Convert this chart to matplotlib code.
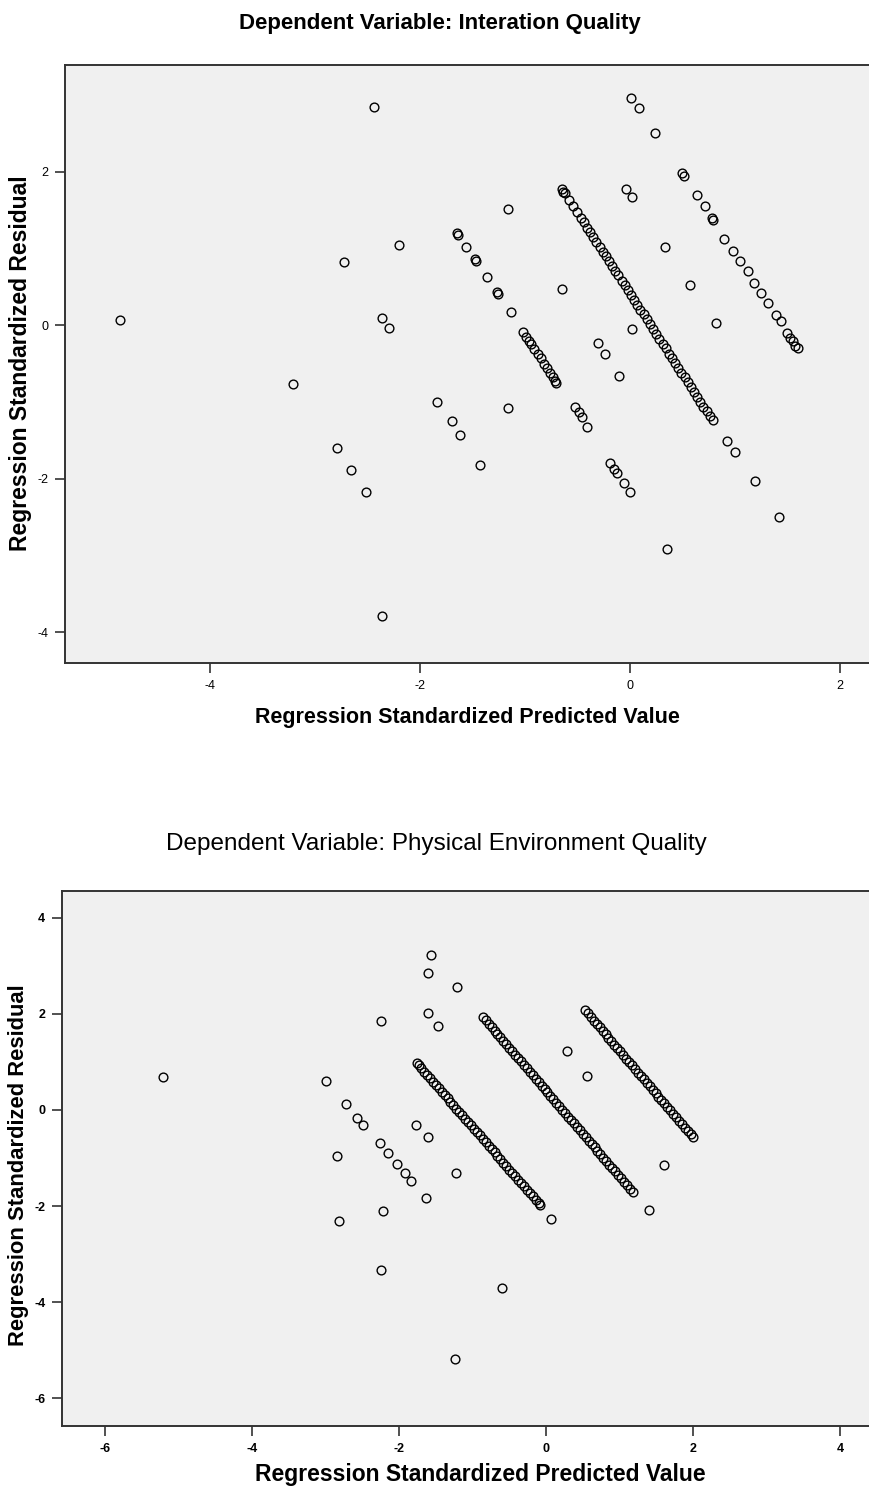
import matplotlib
matplotlib.use("Agg")
import matplotlib.pyplot as plt

plt.rcParams['font.family'] = ['Liberation Sans', 'DejaVu Sans']
plt.rcParams['axes.unicode_minus'] = False

# ---- Dependent Variable: Interation Quality ----
top_pred = [-4.86, -3.21, -2.79, -2.66, -2.51, -2.72, -2.44, -2.20, -2.36, -2.30, -2.36,
            -1.84, -1.70, -1.62, -1.43, -1.16, -1.16, -0.65, -0.30, -0.24, -0.10, 0.02,
            0.01, 0.09, 0.24, -0.04, 0.02, 0.33, 0.57, 0.82, 0.35,
            # line through -1.65 .. 0.0
            -1.65, -1.64, -1.56, -1.48, -1.47, -1.36, -1.27, -1.26, -1.13,
            -1.02, -0.99, -0.96, -0.94, -0.91, -0.88, -0.85, -0.82, -0.79, -0.76, -0.73, -0.71, -0.70,
            -0.52, -0.49, -0.46, -0.41, -0.19, -0.15, -0.12, -0.06, 0.00,
            # line through -0.65 .. 1.42
            -0.65, -0.64, -0.62, -0.58, -0.54, -0.50, -0.47, -0.44, -0.41, -0.38, -0.35, -0.32,
            -0.29, -0.26, -0.23, -0.20, -0.17, -0.14, -0.11, -0.08, -0.05, -0.02, 0.01, 0.04,
            0.07, 0.10, 0.13, 0.16, 0.19, 0.22, 0.25, 0.28, 0.31, 0.34, 0.37, 0.40, 0.43, 0.46,
            0.49, 0.52, 0.55, 0.58, 0.61, 0.64, 0.67, 0.70, 0.73, 0.76, 0.79,
            0.92, 1.00, 1.19, 1.42,
            # line through 0.50 .. 1.60
            0.50, 0.51, 0.64, 0.71, 0.78, 0.79, 0.90, 0.98, 1.05, 1.12, 1.18, 1.25, 1.31,
            1.39, 1.44, 1.50, 1.52, 1.55, 1.57, 1.60]
top_resid = [0.07, -0.76, -1.60, -1.88, -2.17, 0.83, 2.84, 1.05, 0.09, -0.03, -3.79,
             -1.00, -1.25, -1.43, -1.82, 1.51, -1.08, 0.47, -0.23, -0.38, -0.66, -0.05,
             2.96, 2.83, 2.50, 1.77, 1.67, 1.02, 0.53, 0.03, -2.92,
             1.20, 1.17, 1.02, 0.86, 0.84, 0.63, 0.43, 0.41, 0.17,
             -0.09, -0.15, -0.21, -0.25, -0.31, -0.38, -0.43, -0.50, -0.56, -0.62, -0.68, -0.72, -0.75,
             -1.07, -1.13, -1.20, -1.33, -1.79, -1.87, -1.93, -2.05, -2.17,
             1.78, 1.74, 1.72, 1.63, 1.55, 1.47, 1.40, 1.34, 1.27, 1.21, 1.15, 1.09,
             1.02, 0.96, 0.90, 0.84, 0.77, 0.71, 0.65, 0.58, 0.52, 0.46, 0.39, 0.33,
             0.27, 0.20, 0.14, 0.08, 0.01, -0.05, -0.11, -0.18, -0.24, -0.30, -0.37, -0.43, -0.49, -0.56,
             -0.62, -0.68, -0.74, -0.81, -0.87, -0.93, -1.00, -1.06, -1.12, -1.18, -1.24,
             -1.51, -1.65, -2.03, -2.50,
             1.98, 1.95, 1.70, 1.55, 1.40, 1.37, 1.12, 0.97, 0.84, 0.70, 0.55, 0.42, 0.29,
             0.13, 0.05, -0.10, -0.17, -0.21, -0.27, -0.30]

# ---- Dependent Variable: Physical Environment Quality ----
bot_pred = [-5.21, -1.56, -1.61, -1.21, -2.24, -1.61, -1.47, -2.99, -2.72, -2.57, -2.49,
            -2.26, -2.15, -2.03, -1.92, -1.84, -1.77, -1.61, -2.84, -2.22, -2.82, -1.63,
            -2.24, -1.22, -1.24, -0.60, 0.07, 1.40, 1.61, 0.28, 0.56,
            # left line
            -1.76, -1.73, -1.70, -1.66, -1.62, -1.58, -1.54, -1.50, -1.46, -1.42, -1.38, -1.34,
            -1.30, -1.26, -1.22, -1.18, -1.14, -1.10, -1.06, -1.02, -0.98, -0.94, -0.90, -0.86,
            -0.82, -0.78, -0.74, -0.70, -0.66, -0.62, -0.58, -0.54, -0.50, -0.46, -0.42, -0.38,
            -0.34, -0.30, -0.26, -0.22, -0.18, -0.14, -0.10, -0.08,
            # middle line
            -0.86, -0.82, -0.78, -0.74, -0.70, -0.66, -0.62, -0.58, -0.54, -0.50, -0.46, -0.42,
            -0.38, -0.34, -0.30, -0.26, -0.22, -0.18, -0.14, -0.10, -0.06, -0.02, 0.02, 0.06,
            0.10, 0.14, 0.18, 0.22, 0.26, 0.30, 0.34, 0.38, 0.42, 0.46, 0.50, 0.54, 0.58, 0.62,
            0.66, 0.70, 0.74, 0.78, 0.82, 0.86, 0.90, 0.94, 0.98, 1.02, 1.06, 1.10, 1.14, 1.18,
            # right line
            0.53, 0.57, 0.61, 0.65, 0.69, 0.73, 0.77, 0.81, 0.85, 0.89, 0.93, 0.97, 1.01, 1.05,
            1.09, 1.13, 1.17, 1.21, 1.25, 1.29, 1.33, 1.37, 1.41, 1.45, 1.49, 1.53, 1.57, 1.61,
            1.65, 1.69, 1.73, 1.77, 1.81, 1.85, 1.89, 1.93, 1.97, 2.00]
bot_resid = [0.69, 3.23, 2.85, 2.56, 1.85, 2.02, 1.75, 0.60, 0.13, -0.17, -0.31,
             -0.69, -0.90, -1.13, -1.31, -1.48, -0.31, -0.56, -0.96, -2.10, -2.31, -1.83,
             -3.33, -1.31, -5.19, -3.71, -2.27, -2.08, -1.15, 1.23, 0.71,
             0.98, 0.93, 0.87, 0.80, 0.73, 0.66, 0.59, 0.52, 0.45, 0.38, 0.31, 0.24,
             0.17, 0.10, 0.03, -0.04, -0.11, -0.18, -0.25, -0.32, -0.39, -0.46, -0.53, -0.60,
             -0.67, -0.74, -0.81, -0.88, -0.95, -1.03, -1.10, -1.17, -1.24, -1.31, -1.38, -1.45,
             -1.52, -1.59, -1.66, -1.73, -1.80, -1.87, -1.94, -1.98,
             1.94, 1.87, 1.80, 1.73, 1.65, 1.58, 1.51, 1.44, 1.37, 1.30, 1.23, 1.15,
             1.08, 1.01, 0.94, 0.87, 0.80, 0.72, 0.65, 0.58, 0.51, 0.44, 0.37, 0.29,
             0.22, 0.15, 0.08, 0.01, -0.06, -0.14, -0.21, -0.28, -0.35, -0.42, -0.49, -0.57, -0.64, -0.71,
             -0.78, -0.85, -0.92, -1.00, -1.07, -1.14, -1.21, -1.28, -1.35, -1.42, -1.50, -1.57, -1.64, -1.71,
             2.08, 2.01, 1.94, 1.86, 1.79, 1.72, 1.65, 1.58, 1.50, 1.43, 1.36, 1.29, 1.22, 1.14,
             1.07, 1.00, 0.93, 0.86, 0.78, 0.71, 0.64, 0.57, 0.50, 0.42, 0.35, 0.28, 0.21, 0.14,
             0.06, -0.01, -0.08, -0.15, -0.22, -0.29, -0.37, -0.44, -0.51, -0.56]

top_xticks = [-4, -2, 0, 2]
top_yticks = [-4, -2, 0, 2]
bot_xticks = [-6, -4, -2, 0, 2, 4]
bot_yticks = [-6, -4, -2, 0, 2, 4]

fig = plt.figure(figsize=(8.7, 14.9), dpi=100)
W, H = 870.0, 1490.0


def panel(rect_px, xlim, ylim, xs, ys, xticks, yticks):
    l, t, r, b = rect_px
    ax = fig.add_axes([l / W, 1 - b / H, (r - l) / W, (b - t) / H])
    ax.set_facecolor('#f0f0f0')
    ax.plot(xs, ys, linestyle='none', marker='o', markersize=6.3,
            markerfacecolor='none', markeredgecolor='black', markeredgewidth=1.0)
    ax.set_xlim(*xlim)
    ax.set_ylim(*ylim)
    ax.set_xticks(xticks)
    ax.set_yticks(yticks)
    for s in ax.spines.values():
        s.set_color('#333333')
        s.set_linewidth(1.4)
    ax.tick_params(direction='out', length=7, width=1.2, color='#333333',
                   labelsize=9, pad=5)
    return ax


ax1 = panel((65, 65, 880, 663), (-5.381, 2.381), (-4.40, 3.39),
            top_pred, top_resid, top_xticks, top_yticks)
ax2 = panel((62, 891, 880, 1426), (-6.585, 4.544), (-6.58, 4.56),
            bot_pred, bot_resid, bot_xticks, bot_yticks)
for lab in ax2.get_xticklabels() + ax2.get_yticklabels():
    lab.set_fontweight('bold')

fig.text(440 / W, 1 - 23 / H, 'Dependent Variable: Interation Quality',
         ha='center', va='center', fontsize=16, fontweight='bold')
fig.text(467 / W, 1 - 717 / H, 'Regression Standardized Predicted Value',
         ha='center', va='center', fontsize=15.5, fontweight='bold')
fig.text(21 / W, 1 - 363 / H, 'Regression Standardized Residual',
         ha='center', va='center', rotation=90, fontsize=16.5, fontweight='bold')

fig.text(436 / W, 1 - 844 / H, 'Dependent Variable: Physical Environment Quality',
         ha='center', va='center', fontsize=17.5)
fig.text(480 / W, 1 - 1475 / H, 'Regression Standardized Predicted Value',
         ha='center', va='center', fontsize=16.5, fontweight='bold')
fig.text(19 / W, 1 - 1165 / H, 'Regression Standardized Residual',
         ha='center', va='center', rotation=90, fontsize=15.8, fontweight='bold')

fig.savefig('out.png', dpi=100, facecolor='white')
